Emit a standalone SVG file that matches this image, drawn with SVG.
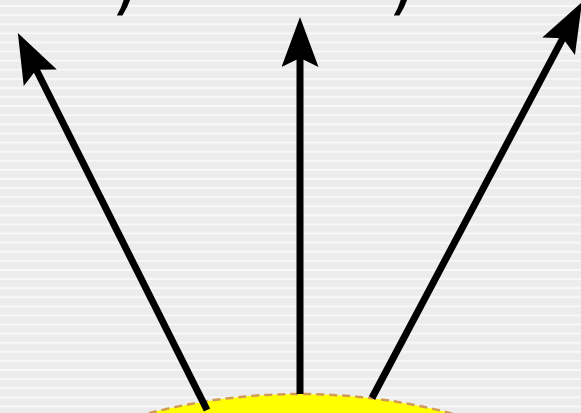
<svg xmlns="http://www.w3.org/2000/svg" width="581" height="413" viewBox="0 0 581 413">
<defs>
<pattern id="stripes" x="0" y="1.5" width="581" height="9.1" patternUnits="userSpaceOnUse">
<rect x="0" y="0" width="581" height="9.1" fill="#ececec"/>
<rect x="0" y="3.5" width="581" height="2" fill="#f8f8f8"/>
</pattern>
<marker id="head" viewBox="0 0 50 37" refX="10" refY="18.5" markerWidth="50" markerHeight="37" markerUnits="userSpaceOnUse" orient="auto">
<path d="M0,0 L50,18.5 L0,37 L9,18.5 Z" fill="#000"/>
</marker>
<style>
.ray{stroke:#000;stroke-width:7;fill:none;marker-end:url(#head)}
.lbl{font-family:"DejaVu Sans",sans-serif;font-size:72px;fill:#000}
</style>
</defs>
<rect width="581" height="413" fill="url(#stripes)"/>
<g id="labels">
<text class="lbl" x="111" y="6">)</text>
<text class="lbl" x="388" y="6">)</text>
</g>
<g id="sun">
<ellipse cx="300" cy="990" rx="600" ry="596" fill="#ffff00" stroke="#d29a55" stroke-width="2.5" stroke-dasharray="8,5"/>
</g>
<g id="connectors">
<line class="ray" x1="207" y1="410" x2="35.8" y2="68.8"/>
<line class="ray" x1="300" y1="394" x2="300" y2="57"/>
<line class="ray" x1="372" y1="398" x2="563.3" y2="37.4"/>
</g>
</svg>
